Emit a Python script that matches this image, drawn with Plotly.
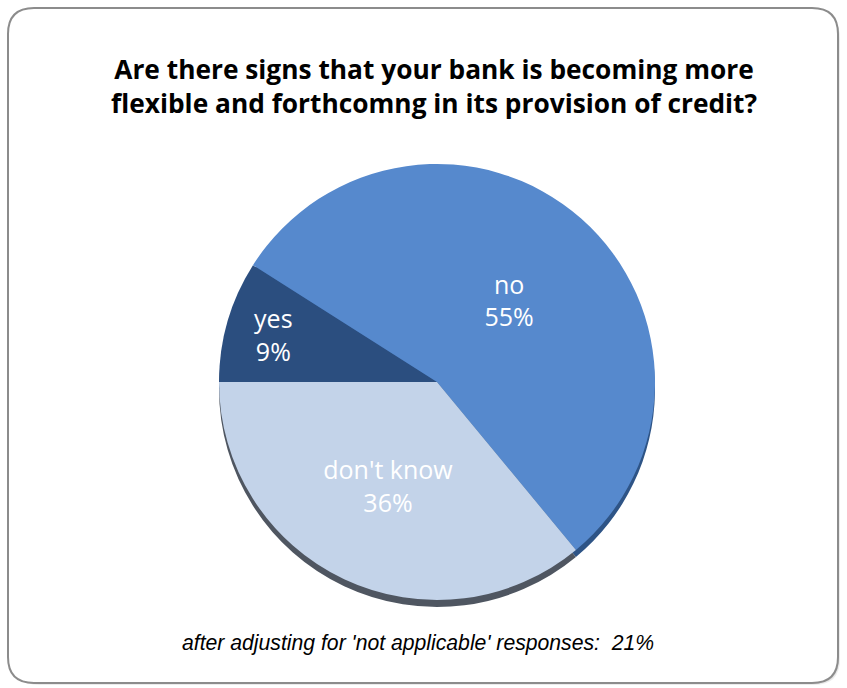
import plotly.graph_objects as go

# Survey responses
labels = ["yes", "no", "don't know"]
shares = [9, 55, 36]
face_colors = ["#2B4E7F", "#5689CD", "#C3D3E9"]
edge_colors = ["#1E3A63", "#2E5486", "#4F5661"]

title_text = ("Are there signs that your bank is becoming more<br>"
              "flexible and forthcomng in its provision of credit?")
note_text = "after adjusting for 'not applicable' responses:  21%"

W, H = 847, 688
cx, cy, r = 437, 382, 218
depth = 7


def dom(cx, cy, r):
    return dict(x=[(cx - r) / W, (cx + r) / W],
                y=[1 - (cy + r) / H, 1 - (cy - r) / H])


fig = go.Figure()

# darker copy shifted down gives the pie its rim
fig.add_trace(go.Pie(
    labels=labels, values=shares, sort=False, direction="clockwise",
    rotation=270, domain=dom(cx, cy + depth, r),
    marker=dict(colors=edge_colors, line=dict(width=0)),
    textinfo="none", hoverinfo="skip", showlegend=False,
))

fig.add_trace(go.Pie(
    labels=labels, values=shares, sort=False, direction="clockwise",
    rotation=270, domain=dom(cx, cy, r),
    marker=dict(colors=face_colors, line=dict(width=0)),
    texttemplate="%{label}<br>%{value}%", textposition="inside",
    insidetextorientation="horizontal",
    textfont=dict(family="Open Sans, sans-serif", size=25, color="white"),
    showlegend=False,
))

annotations = [
    dict(text=f"<b>{title_text}</b>", x=434 / W, y=1 - 86 / H,
         xref="paper", yref="paper", showarrow=False,
         xanchor="center", yanchor="middle",
         font=dict(family="Open Sans, sans-serif", size=26.3, color="black")),
    dict(text=f"<i>{note_text}</i>", x=418 / W, y=1 - 643 / H,
         xref="paper", yref="paper", showarrow=False,
         xanchor="center", yanchor="middle",
         font=dict(family="Liberation Sans, Arial, sans-serif", size=21.2, color="black")),
]

fig.update_layout(
    width=W, height=H,
    margin=dict(l=0, r=0, t=0, b=0),
    paper_bgcolor="white", plot_bgcolor="white",
    annotations=annotations,
    # hidden pixel-space axes used to place the frame
    xaxis=dict(range=[0, W], visible=False, fixedrange=True),
    yaxis=dict(range=[H, 0], visible=False, fixedrange=True),
)


def rpath(x0, y0, x1, y1, rad):
    return (f"M {x0+rad},{y0} L {x1-rad},{y0} Q {x1},{y0} {x1},{y0+rad} "
            f"L {x1},{y1-rad} Q {x1},{y1} {x1-rad},{y1} L {x0+rad},{y1} "
            f"Q {x0},{y1} {x0},{y1-rad} L {x0},{y0+rad} Q {x0},{y0} {x0+rad},{y0} Z")


# rounded frame with a soft shadow
for off, col in [(5, "rgba(0,0,0,0.08)"), (4, "rgba(0,0,0,0.12)"), (3, "rgba(0,0,0,0.18)")]:
    fig.add_shape(type="path", xref="x", yref="y", layer="below",
                  path=rpath(8 + off, 8 + off, 838 + off - 3, 683 + off - 3, 26),
                  line=dict(width=0), fillcolor=col)
fig.add_shape(type="path", xref="x", yref="y", layer="below",
              path=rpath(8, 8, 838, 683, 26),
              line=dict(width=2, color="#8C8C8C"), fillcolor="white")

fig.write_html("out.html")
